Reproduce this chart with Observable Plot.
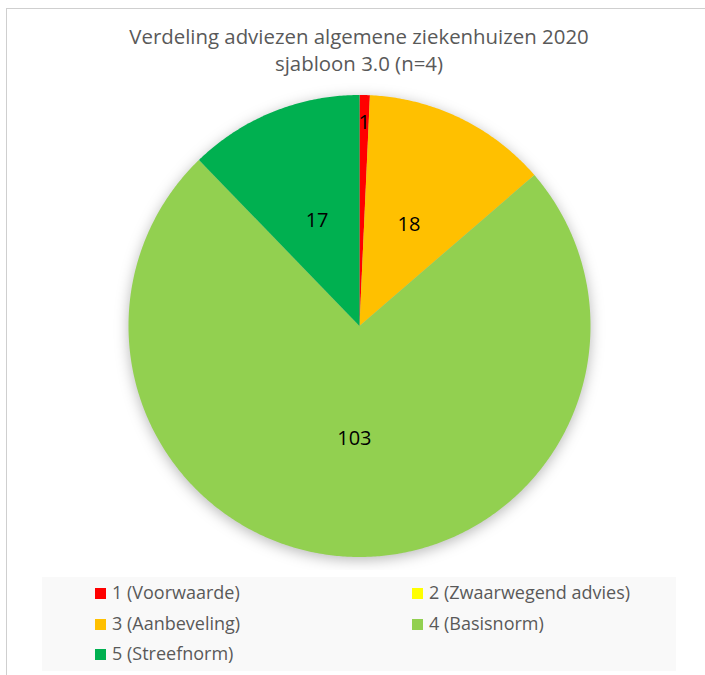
<!DOCTYPE html>
<html>
<head>
<meta charset="utf-8">
<script src="https://cdn.jsdelivr.net/npm/d3@7"></script>
<script src="https://cdn.jsdelivr.net/npm/@observablehq/plot@0.6"></script>
<style>
  html, body { margin: 0; padding: 0; background: #fff; width: 705px; height: 675px; overflow: hidden; font-family: "Open Sans", sans-serif; }
  #frame { position: absolute; left: 6px; top: 8px; width: 900px; height: 900px; border-left: 1.5px solid #cfcfcf; border-top: 1.5px solid #cfcfcf; }
  .title { position: absolute; left: 0; width: 718px; text-align: center; color: #595959; font-size: 20.4px; line-height: 24px; white-space: nowrap; }
  #chart { position: absolute; left: 0; top: 0; }
  #chart g[aria-label="geo"] { filter: drop-shadow(0px 3px 7px rgba(0,0,0,0.28)); }
  #legend { position: absolute; left: 42px; top: 577px; width: 634px; height: 94px; background: #f9f9f9; }
  .item { position: absolute; height: 22px; line-height: 22px; font-size: 18px; color: #595959; white-space: nowrap; }
  .sw { position: absolute; left: 0; top: 5.5px; width: 11px; height: 11px; }
  .lb { position: absolute; left: 17px; top: -1px; }
</style>
</head>
<body>
<div id="frame"></div>
<div class="title" style="top:24px">Verdeling adviezen algemene ziekenhuizen 2020</div>
<div class="title" style="top:51px">sjabloon 3.0 (n=4)</div>
<div id="chart"></div>
<div id="legend"></div>
<script>
const categories = ["1 (Voorwaarde)", "2 (Zwaarwegend advies)", "3 (Aanbeveling)", "4 (Basisnorm)", "5 (Streefnorm)"];
const values = [1, 0, 18, 103, 17];
const colors = ["#FF0000", "#FFFF00", "#FFC000", "#92D050", "#00B050"];

// layout
const W = 705, H = 570;
const cx = 359, cy = 325.5, R = 231;

const data = categories.map((c, i) => ({category: c, value: values[i]}));
const total = d3.sum(values);
const arcs = d3.pie().sort(null).value(d => d.value)(data);

const pt = (a, r) => [cx + r * Math.sin(a), cy - r * Math.cos(a)];

const features = arcs.filter(a => a.data.value > 0).map(a => {
  const ring = [[cx, cy]];
  const n = Math.max(2, Math.ceil((a.endAngle - a.startAngle) / (Math.PI / 360)));
  for (let k = 0; k <= n; k++) ring.push(pt(a.startAngle + (a.endAngle - a.startAngle) * k / n, R));
  ring.push([cx, cy]);
  return {type: "Feature", properties: {category: a.data.category, value: a.data.value}, geometry: {type: "Polygon", coordinates: [ring]}};
});

const labels = arcs.filter(a => a.data.value > 0).map(a => {
  const mid = (a.startAngle + a.endAngle) / 2;
  const frac = a.data.value / total;
  const [x, y] = pt(mid, frac < 0.03 ? R * 0.88 : R * 0.49);
  return {x, y, text: String(a.data.value)};
});

const frameDomain = {type: "Polygon", coordinates: [[[0, 0], [W, 0], [W, H], [0, H], [0, 0]]]};

const plot = Plot.plot({
  width: W,
  height: H,
  margin: 0,
  projection: {type: "identity", domain: frameDomain},
  color: {domain: categories, range: colors},
  marks: [
    Plot.geo(features, {fill: d => d.properties.category, stroke: "none"}),
    Plot.text(labels, {x: "x", y: "y", text: "text", fill: "#000", fontSize: 20, fontFamily: "Open Sans", dy: 0})
  ]
});
plot.style.background = "transparent";
document.getElementById("chart").appendChild(plot);

// legend
const legend = document.getElementById("legend");
const colX = [53, 370];
const rowY = [5, 36, 66];
categories.forEach((c, i) => {
  const item = document.createElement("div");
  item.className = "item";
  item.style.left = colX[i % 2] + "px";
  item.style.top = rowY[Math.floor(i / 2)] + "px";
  const sw = document.createElement("div");
  sw.className = "sw";
  sw.style.background = colors[i];
  const lb = document.createElement("div");
  lb.className = "lb";
  lb.textContent = c;
  item.appendChild(sw);
  item.appendChild(lb);
  legend.appendChild(item);
});
</script>
</body>
</html>
